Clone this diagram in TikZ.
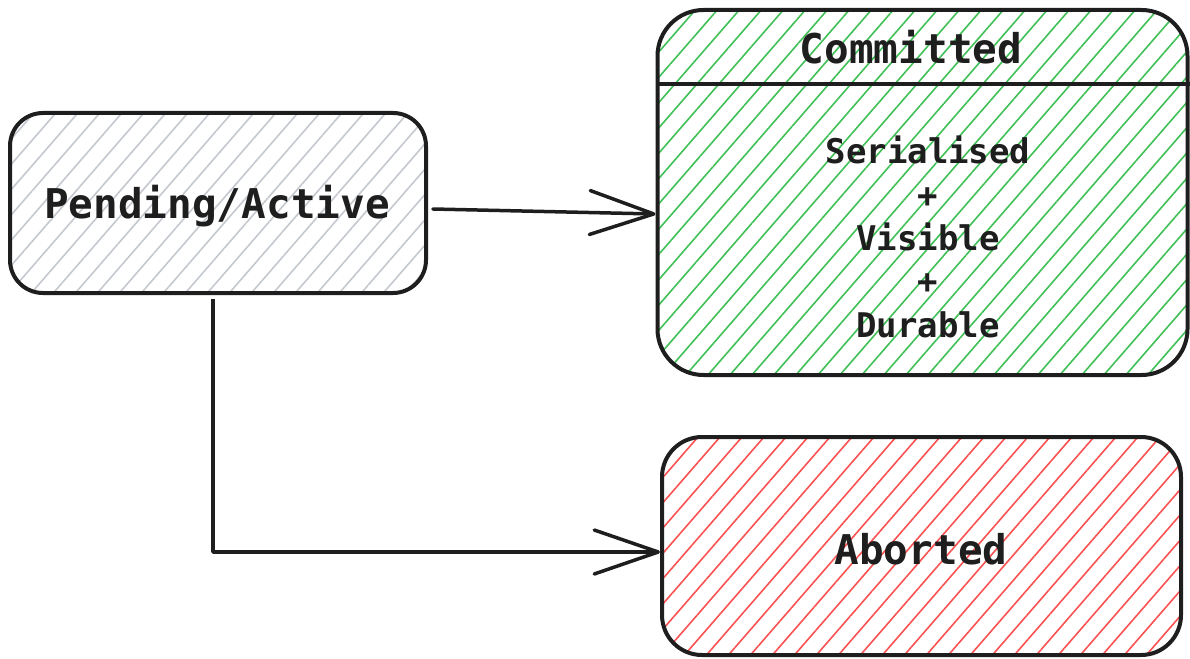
\documentclass[tikz,border=0pt]{standalone}
\usepackage{fontspec}
\usetikzlibrary{arrows.meta,patterns.meta}
\newfontfamily\diagfont{DejaVu Sans Mono}
\definecolor{ink}{HTML}{1E1E1E}
\definecolor{hatchgray}{HTML}{C3C9CF}
\definecolor{hatchgreen}{HTML}{40C057}
\definecolor{hatchred}{HTML}{FA5252}
\tikzset{
  statebox/.style={draw=ink, line width=4pt, rectangle, inner sep=0pt,
    line join=round},
  hatch/.style={pattern={Lines[angle=49, distance=16.6pt, line width=1.6pt]},
    pattern color=#1},
  bigtext/.style={font=\diagfont\bfseries\fontsize{41}{50}\selectfont, text=ink},
  smalltext/.style={font=\diagfont\bfseries\fontsize{34}{43.3}\selectfont,
    text=ink, align=center},
  conn/.style={draw=ink, line width=3.5pt, line cap=round, line join=round,
    -{Straight Barb[length=64pt, width=44pt, line width=3.5pt, round]}},
}
\begin{document}
\begin{tikzpicture}[x=1pt, y=-1pt]
  \useasboundingbox (0,0) rectangle (1190,658);

  % states
  \node[statebox, hatch=hatchgray, rounded corners=33pt,
        minimum width=416pt, minimum height=180pt] (P) at (218,203) {};
  \node[statebox, hatch=hatchgreen, rounded corners=46pt,
        minimum width=530pt, minimum height=365pt] (C) at (922.5,192.5) {};
  \node[statebox, hatch=hatchred, rounded corners=40pt,
        minimum width=519pt, minimum height=218pt] (A) at (921.5,546) {};

  % header divider of the committed state
  \draw[draw=ink, line width=3.2pt] (C.west |- 0,84) -- (C.east |- 0,84);

  % labels
  \node[bigtext] (Plabel) at (217,206) {Pending/Active};
  \node[bigtext] (Clabel) at (911,47) {Committed};
  \node[smalltext] (Cbody) at (928,237)
    {Serialised\\+\\Visible\\+\\Durable};
  \node[bigtext] (Alabel) at (921,549) {Aborted};

  % transitions
  \draw[conn] ([xshift=6pt, yshift=-6pt]P.east) -- ([yshift=-21.5pt]C.west);
  \draw[conn, line cap=butt] ([xshift=-5pt, yshift=-5pt]P.south)
    |- ([yshift=-6pt]A.west);
\end{tikzpicture}
\end{document}
